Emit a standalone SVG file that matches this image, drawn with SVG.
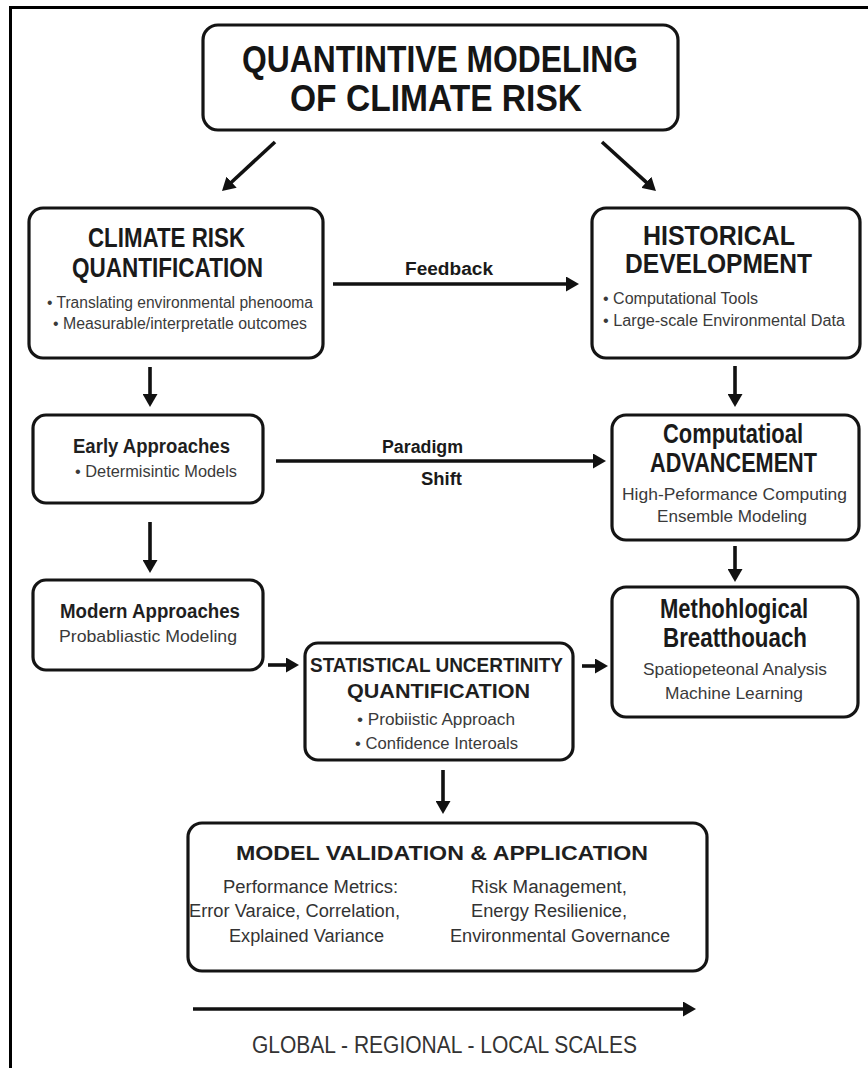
<svg xmlns="http://www.w3.org/2000/svg" width="868" height="1068" viewBox="0 0 868 1068">
  <style>
    .box { fill: #ffffff; stroke: #141414; stroke-width: 3.2; }
    .frame { fill: none; stroke: #000000; stroke-width: 3; }
    .conn { stroke: #111111; stroke-width: 3.6; fill: none; marker-end: url(#head); }
    text { font-family: "Liberation Sans", Arial, sans-serif; text-anchor: middle; }
    .h1 { font-size: 36px; font-weight: bold; fill: #151515; }
    .h2 { font-size: 27px; font-weight: bold; fill: #1a1a1a; }
    .h3 { font-size: 20px; font-weight: bold; fill: #1f1f1f; }
    .lbl { font-size: 18px; font-weight: bold; fill: #1a1a1a; }
    .sub { font-size: 16px; fill: #3a3a3a; }
    .sub2 { font-size: 17px; fill: #3a3a3a; }
    .body { font-size: 18px; fill: #333333; }
    .left { text-anchor: start; }
    .scale { font-size: 23px; fill: #333333; }
  </style>
  <defs>
    <marker id="head" markerUnits="userSpaceOnUse" markerWidth="14" markerHeight="15" refX="2" refY="7.5" orient="auto">
      <path d="M0,0 L13,7.5 L0,15 z" fill="#111111"/>
    </marker>
  </defs>

  <rect width="868" height="1068" fill="#ffffff"/>
  <!-- page frame: top and left edges only -->
  <path class="frame" d="M10.5,1068 V7.5 H868"/>

  <!-- connectors -->
  <g id="connectors">
    <line class="conn" x1="275" y1="142" x2="230.1" y2="183.5"/>
    <line class="conn" x1="602" y1="142" x2="647.8" y2="183.6"/>
    <line class="conn" x1="333" y1="284" x2="568" y2="284"/>
    <line class="conn" x1="150" y1="367" x2="150" y2="396"/>
    <line class="conn" x1="735" y1="366" x2="735" y2="396"/>
    <line class="conn" x1="276" y1="461" x2="595" y2="461"/>
    <line class="conn" x1="150" y1="522" x2="150" y2="562"/>
    <line class="conn" x1="735" y1="546" x2="735" y2="571"/>
    <line class="conn" x1="268" y1="665" x2="288" y2="665"/>
    <line class="conn" x1="582" y1="666" x2="597" y2="666"/>
    <line class="conn" x1="443" y1="770" x2="443" y2="803"/>
    <line class="conn" x1="193" y1="1009" x2="685" y2="1009"/>
    <text class="lbl" x="449" y="275" textLength="88" lengthAdjust="spacingAndGlyphs">Feedback</text>
    <text class="lbl" x="422.5" y="453" textLength="81" lengthAdjust="spacingAndGlyphs">Paradigm</text>
    <text class="lbl" x="441.5" y="485" textLength="41" lengthAdjust="spacingAndGlyphs">Shift</text>
  </g>

  <g id="title">
    <rect class="box" x="203" y="25" width="475" height="105" rx="15"/>
    <text class="h1" x="440" y="72" textLength="396" lengthAdjust="spacingAndGlyphs">QUANTINTIVE MODELING</text>
    <text class="h1" x="436" y="111" textLength="292" lengthAdjust="spacingAndGlyphs">OF CLIMATE RISK</text>
  </g>

  <g id="climate-risk-quantification">
    <rect class="box" x="29" y="208" width="294" height="150" rx="14"/>
    <text class="h2" x="166.5" y="247" textLength="157" lengthAdjust="spacingAndGlyphs">CLIMATE RISK</text>
    <text class="h2" x="167.5" y="277" textLength="191" lengthAdjust="spacingAndGlyphs">QUANTIFICATION</text>
    <text class="sub" x="180" y="308" textLength="266" lengthAdjust="spacingAndGlyphs">• Translating environmental phenooma</text>
    <text class="sub" x="180" y="329" textLength="254" lengthAdjust="spacingAndGlyphs">• Measurable/interpretatle outcomes</text>
  </g>

  <g id="historical-development">
    <rect class="box" x="592" y="208" width="268" height="150" rx="14"/>
    <text class="h2" x="719" y="245" textLength="152" lengthAdjust="spacingAndGlyphs">HISTORICAL</text>
    <text class="h2" x="718.5" y="273" textLength="187" lengthAdjust="spacingAndGlyphs">DEVELOPMENT</text>
    <text class="sub left" x="603" y="304" textLength="155" lengthAdjust="spacingAndGlyphs">• Computational Tools</text>
    <text class="sub left" x="603" y="326" textLength="242" lengthAdjust="spacingAndGlyphs">• Large-scale Environmental Data</text>
  </g>

  <g id="early-approaches">
    <rect class="box" x="33" y="415" width="230" height="88" rx="13"/>
    <text class="h3" x="151.5" y="453" textLength="157" lengthAdjust="spacingAndGlyphs">Early Approaches</text>
    <text class="sub" x="156" y="477" textLength="162" lengthAdjust="spacingAndGlyphs">• Determisintic Models</text>
  </g>

  <g id="computational-advancement">
    <rect class="box" x="612" y="415" width="247" height="125" rx="14"/>
    <text class="h2" x="733" y="443" font-size="24" textLength="140" lengthAdjust="spacingAndGlyphs">Computatioal</text>
    <text class="h2" x="733.5" y="472" font-size="25" textLength="167" lengthAdjust="spacingAndGlyphs">ADVANCEMENT</text>
    <text class="sub2" x="734.5" y="500" textLength="225" lengthAdjust="spacingAndGlyphs">High-Peformance Computing</text>
    <text class="sub2" x="732" y="522" textLength="150" lengthAdjust="spacingAndGlyphs">Ensemble Modeling</text>
  </g>

  <g id="modern-approaches">
    <rect class="box" x="33" y="580" width="230" height="90" rx="13"/>
    <text class="h3" x="150" y="618" textLength="180" lengthAdjust="spacingAndGlyphs">Modern Approaches</text>
    <text class="sub2" x="148" y="642" textLength="178" lengthAdjust="spacingAndGlyphs">Probabliastic Modeling</text>
  </g>

  <g id="methodological-breakthrough">
    <rect class="box" x="612" y="587" width="246" height="130" rx="14"/>
    <text class="h2" x="734" y="618" textLength="148" lengthAdjust="spacingAndGlyphs">Methohlogical</text>
    <text class="h2" x="735" y="647" textLength="144" lengthAdjust="spacingAndGlyphs">Breatthouach</text>
    <text class="sub2" x="735" y="675" textLength="184" lengthAdjust="spacingAndGlyphs">Spatiopeteonal Analysis</text>
    <text class="sub2" x="734" y="699" textLength="138" lengthAdjust="spacingAndGlyphs">Machine Learning</text>
  </g>

  <g id="statistical-uncertainty">
    <rect class="box" x="305" y="643" width="268" height="117" rx="13"/>
    <text class="h3" x="436.5" y="672" font-size="21" textLength="253" lengthAdjust="spacingAndGlyphs">STATISTICAL UNCERTINITY</text>
    <text class="h3" x="438.5" y="698" font-size="22" textLength="183" lengthAdjust="spacingAndGlyphs">QUANTIFICATION</text>
    <text class="sub" x="436" y="725" textLength="158" lengthAdjust="spacingAndGlyphs">• Probiistic Approach</text>
    <text class="sub" x="436.5" y="749" textLength="163" lengthAdjust="spacingAndGlyphs">• Confidence Interoals</text>
  </g>

  <g id="model-validation">
    <rect class="box" x="188" y="823" width="519" height="148" rx="14"/>
    <text class="h3" x="442" y="860" font-size="24" textLength="412" lengthAdjust="spacingAndGlyphs">MODEL VALIDATION &amp; APPLICATION</text>
    <text class="body" x="310.5" y="893" textLength="175" lengthAdjust="spacingAndGlyphs">Performance Metrics:</text>
    <text class="body" x="294.5" y="917" textLength="211" lengthAdjust="spacingAndGlyphs">Error Varaice, Correlation,</text>
    <text class="body" x="306.5" y="942" textLength="155" lengthAdjust="spacingAndGlyphs">Explained Variance</text>
    <text class="body" x="549" y="893" textLength="156" lengthAdjust="spacingAndGlyphs">Risk Management,</text>
    <text class="body" x="549" y="917" textLength="156" lengthAdjust="spacingAndGlyphs">Energy Resilienice,</text>
    <text class="body" x="560" y="942" textLength="220" lengthAdjust="spacingAndGlyphs">Environmental Governance</text>
  </g>

  <g id="scales">
    <text class="scale" x="444.5" y="1053" textLength="385" lengthAdjust="spacingAndGlyphs">GLOBAL - REGIONAL - LOCAL SCALES</text>
  </g>
</svg>
